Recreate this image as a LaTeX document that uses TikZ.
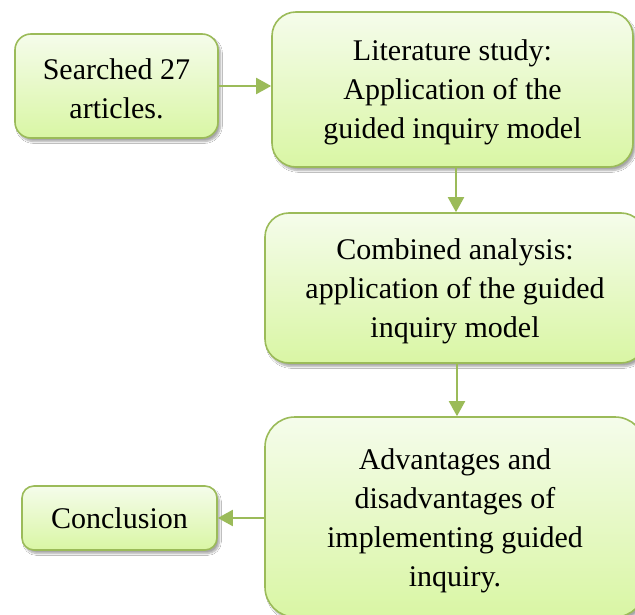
\documentclass[tikz,border=0pt]{standalone}
\usepackage{fontspec}
\setmainfont{Liberation Serif}
\usetikzlibrary{arrows.meta,shadows.blur}
\definecolor{gborder}{HTML}{9BBB59}
\definecolor{gtop}{HTML}{F5FCEB}
\definecolor{gbot}{HTML}{D9F6A4}
\tikzset{
  box/.style={draw=gborder, line width=1.6pt, top color=gtop, bottom color=gbot,
    inner sep=0pt,
    blur shadow={shadow xshift=2.5pt, shadow yshift=-3.5pt, shadow blur steps=8, shadow opacity=35}},
  txt/.style={align=center, inner sep=0pt, font=\fontsize{30}{39}\selectfont, yshift=-3pt},
  conn/.style={draw=gborder, line width=2pt, -{Triangle[length=15pt,width=16pt]}}
}
\begin{document}
\begin{tikzpicture}[x=1pt,y=-1pt]
\useasboundingbox (0,0) rectangle (635,615);
\fill[white] (0,0) rectangle (635,615);
\node[box, rounded corners=16pt, minimum width=203pt, minimum height=104pt,
  label={[txt]center:Searched 27\\articles.}] (a) at (116.5,86) {};
\node[box, rounded corners=24pt, minimum width=361pt, minimum height=155pt,
  label={[txt]center:Literature study:\\Application of the\\guided inquiry model}] (b) at (452.5,89.5) {};
\node[box, rounded corners=24pt, minimum width=380pt, minimum height=150pt,
  label={[txt]center:Combined analysis:\\application of the guided\\inquiry model}] (c) at (455,288) {};
\node[box, rounded corners=30pt, minimum width=380pt, minimum height=200pt,
  label={[txt,yshift=-1pt]center:Advantages and\\disadvantages of\\implementing guided\\inquiry.}] (d) at (455,517) {};
\node[box, rounded corners=12pt, minimum width=195pt, minimum height=64pt,
  label={[txt,yshift=3pt]center:Conclusion}] (e) at (119.5,518) {};
\draw[conn] (a.east) -- (b.west |- a.east);
\draw[conn] (b.south -| 456,0) -- (c.north -| 456,0);
\draw[conn] (c.south -| 457,0) -- (d.north -| 457,0);
\draw[conn] (d.west |- e.east) -- (e.east);
\end{tikzpicture}
\end{document}
